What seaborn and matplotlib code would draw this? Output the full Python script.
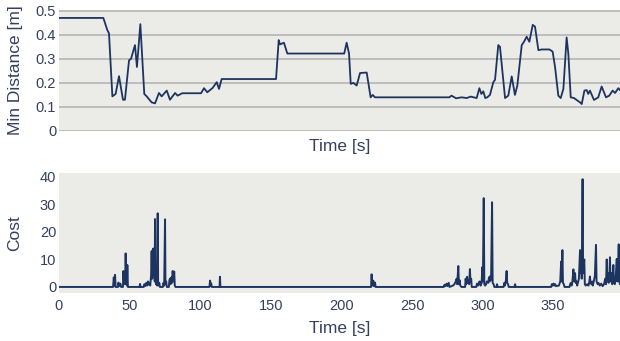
import matplotlib
matplotlib.use("Agg")
import matplotlib.pyplot as plt
import seaborn as sns
import pandas as pd

# ---------------- data ----------------
min_t = [0, 31.4, 34.2, 35.4, 37.8, 40.1, 42.5, 45.3, 46.7, 49.6, 51.0, 53.8, 55.2, 57.6,
         60.4, 62.1, 65.6, 68.0, 70.8, 72.7, 76.3, 78.6, 82.2, 84.0, 87.3, 100.6, 102.7,
         105.0, 108.8, 111.7, 113.3, 115.2, 153.7, 155.6, 156.5, 159.3, 161.7, 202.0, 203.7,
         205.4, 206.6, 208.5, 210.8, 213.2, 217.9, 220.7, 222.2, 223.8, 276.4, 278.0, 281.2,
         285.2, 288.7, 291.5, 295.8, 297.7, 299.1, 300.5, 301.9, 303.3, 305.2, 307.6, 308.8,
         311.1, 312.3, 315.9, 318.2, 320.6, 322.9, 324.6, 327.7, 329.3, 331.2, 333.1, 335.5,
         337.1, 339.5, 341.9, 347.3, 349.6, 351.3, 353.6, 355.3, 357.2, 359.5, 360.7, 362.4,
         364.7, 366.6, 369.0, 370.2, 372.1, 373.7, 374.8, 376.0, 378.9, 381.9, 384.3, 387.4,
         389.7, 392.1, 393.8, 396.1, 397.3]
min_dist = [0.47, 0.47, 0.42, 0.406, 0.144, 0.154, 0.228, 0.13, 0.13, 0.294, 0.30, 0.357, 0.266,
            0.444, 0.154, 0.144, 0.119, 0.115, 0.158, 0.144, 0.168, 0.13, 0.158, 0.147, 0.157,
            0.157, 0.178, 0.161, 0.179, 0.203, 0.175, 0.216, 0.216, 0.378, 0.36, 0.367, 0.322,
            0.322, 0.367, 0.322, 0.196, 0.20, 0.189, 0.241, 0.243, 0.14, 0.15, 0.14, 0.14, 0.147,
            0.136, 0.14, 0.137, 0.143, 0.137, 0.178, 0.154, 0.165, 0.137, 0.14, 0.15, 0.203,
            0.213, 0.357, 0.35, 0.137, 0.147, 0.227, 0.15, 0.189, 0.357, 0.371, 0.392, 0.371,
            0.441, 0.434, 0.336, 0.339, 0.339, 0.33, 0.266, 0.147, 0.137, 0.175, 0.389, 0.322,
            0.14, 0.137, 0.129, 0.119, 0.112, 0.168, 0.17, 0.154, 0.168, 0.129, 0.14, 0.185,
            0.14, 0.147, 0.168, 0.158, 0.178, 0.17]

cost_points = [
    (0, 0), (38.3, 0), (38.8, 3.5), (39.2, 0.5), (39.7, 4.4), (40.1, 0), (41.8, 0), (42.1, 1.6),
    (42.5, 0.3), (43.5, 1.2), (44.0, 0), (45.3, 0), (45.6, 5.8), (46.0, 2), (46.4, 5.5), (46.8, 1),
    (47.2, 12.2), (47.6, 3), (48.1, 0.5), (48.4, 8), (48.8, 0), (57.0, 0), (57.4, 1.1), (57.8, 0),
    (60.0, 0), (60.5, 1), (61.0, 0.3), (61.8, 1.5), (62.3, 0.5), (63.0, 2), (63.5, 0.8), (64.2, 1.5),
    (64.6, 0.5), (65.2, 4), (65.6, 13), (66.0, 3), (66.4, 13.5), (66.8, 14), (67.1, 4), (67.5, 8),
    (67.8, 2), (68.0, 24.7), (68.3, 3), (68.7, 1), (69.0, 3), (69.5, 0.5), (69.9, 26.8), (70.2, 2),
    (70.6, 0.5), (71.0, 1.5), (71.5, 0), (73.5, 0), (74.0, 1.5), (74.5, 0.5), (75.1, 24.6),
    (75.4, 1), (75.9, 2), (76.4, 0), (77.8, 0), (78.2, 2.5), (78.6, 3), (79.0, 1), (79.6, 3.5),
    (80.0, 1.5), (80.5, 5.8), (81.0, 2), (81.6, 5.6), (82.0, 0.5), (82.5, 0),
    (106.5, 0), (107.0, 2.3), (107.4, 0.5), (107.8, 1.3), (108.2, 0), (113.7, 0), (114.0, 3.7),
    (114.3, 0), (221.0, 0), (221.4, 4.6), (221.8, 0.5), (222.6, 2.3), (223.0, 0.3), (223.8, 1.6),
    (224.2, 0), (272.5, 0), (273.0, 0.8), (273.5, 0.3), (274.5, 1.2), (275.0, 0.3), (276.0, 1.5),
    (276.5, 0), (279.0, 0.5), (280.0, 1), (281.0, 2), (281.6, 3), (282.0, 1), (282.8, 7.6),
    (283.2, 1), (283.7, 2.5), (284.2, 0.5), (285.0, 0), (287.6, 0), (288.0, 3), (288.4, 1),
    (289.0, 3.7), (289.5, 1.5), (290.0, 2), (290.5, 1), (291.0, 6.5), (291.4, 2), (291.9, 3),
    (292.3, 0), (295.5, 0), (296.0, 1.2), (296.8, 0.5), (297.5, 1.8), (298.0, 2), (298.6, 0.5),
    (299.3, 1.5), (299.8, 7.2), (300.2, 2), (300.8, 32.3), (301.2, 1), (301.8, 0.5), (302.5, 1),
    (303.0, 2), (304.0, 1.5), (304.5, 3.5), (305.0, 2), (305.5, 4), (306.0, 2.5), (306.7, 30.8),
    (307.1, 1.5), (307.8, 1), (308.3, 0), (309.8, 0), (310.2, 1), (310.6, 0), (314.8, 0),
    (315.4, 1.5), (315.8, 0.5), (316.5, 2.5), (317.0, 5.8), (317.4, 1.5), (318.0, 1), (318.5, 0),
    (322.6, 0), (323.0, 1), (323.4, 0), (348.5, 0), (349.0, 1), (349.5, 0.5), (350.2, 1.2),
    (350.8, 0.5), (351.4, 1), (352.0, 0.3), (354.0, 0.5), (355.0, 2), (355.6, 9.2), (356.0, 2),
    (356.5, 13.4), (356.9, 1.5), (357.5, 1), (358.0, 0), (361.5, 0), (362.0, 1), (362.6, 1.5),
    (363.0, 0.5), (363.6, 2), (364.3, 6.4), (364.7, 2), (365.5, 5), (365.9, 1.5), (366.5, 2),
    (367.0, 0.5), (367.5, 1.5), (368.2, 3), (369.0, 13.4), (369.4, 5), (369.8, 10), (370.2, 3),
    (370.8, 39.2), (371.2, 5), (372.0, 10), (372.4, 1), (373.0, 0.5), (374.0, 1), (375.0, 0.5),
    (375.6, 2), (376.0, 3.8), (376.4, 1.5), (377.0, 1), (377.6, 2), (378.0, 0.5), (378.9, 2.4),
    (379.5, 4), (380.3, 15.3), (380.7, 2), (381.5, 1), (382.0, 1.5), (383.0, 0.5), (384.0, 1.2),
    (385.0, 0.3), (386.0, 1), (386.8, 3), (387.4, 1), (387.9, 10), (388.3, 2), (388.8, 5),
    (389.3, 1.5), (389.8, 4), (390.2, 10.8), (390.6, 2), (391.2, 5), (391.8, 1), (392.6, 8),
    (393.0, 2), (393.6, 1), (394.2, 3), (395.0, 10.2), (395.4, 2), (395.8, 4), (396.4, 15.5),
    (396.8, 2), (397.3, 1),
]

top_yticks = [0, 0.1, 0.2, 0.3, 0.4, 0.5]
top_yticklabels = ["0", "0.1", "0.2", "0.3", "0.4", "0.5"]
bot_yticks = [0, 10, 20, 30, 40]
x_ticks = [0, 50, 100, 150, 200, 250, 300, 350]

# ---------------- style ----------------
LINE = "#1d3461"
TEXT = "#34405e"
BG = "#ebebe7"
GRID = "#bdbdbd"

sns.set_theme(style="white")
plt.rcParams["font.family"] = ["Liberation Sans", "DejaVu Sans"]

df_top = pd.DataFrame({"t": min_t, "d": min_dist})
df_bot = pd.DataFrame(cost_points, columns=["t", "c"])

W, H = 620, 341
fig = plt.figure(figsize=(W / 100, H / 100), dpi=100)
ax1 = fig.add_axes([59 / W, (H - 131) / H, 561 / W, 121 / H])
ax2 = fig.add_axes([59 / W, (H - 293) / H, 561 / W, 120 / H])

for ax in (ax1, ax2):
    ax.set_facecolor(BG)
    for s in ax.spines.values():
        s.set_visible(False)
    ax.tick_params(length=0, colors=TEXT, labelsize=10.5)
    ax.set_xlim(0, 397.3)

sns.lineplot(data=df_top, x="t", y="d", ax=ax1, color=LINE, linewidth=1.3, estimator=None)
ax1.set_ylim(0, 0.503)
ax1.set_yticks(top_yticks)
ax1.set_yticklabels(top_yticklabels)
ax1.set_xticks(x_ticks)
ax1.set_xticklabels([])
ax1.grid(axis="y", color=GRID, linewidth=1.4)
ax1.set_axisbelow(True)
ax1.set_xlabel("Time [s]", color=TEXT, fontsize=12.5, va="top")
ax1.set_ylabel("Min Distance [m]", color=TEXT, fontsize=12.5)
ax1.xaxis.set_label_coords(0.5, -0.07)
ax1.yaxis.set_label_coords(-0.064, 0.5)
ax1.tick_params(axis="y", pad=2)

sns.lineplot(data=df_bot, x="t", y="c", ax=ax2, color=LINE, linewidth=1.4, estimator=None)
ax2.set_ylim(-2.2, 41.45)
ax2.set_yticks(bot_yticks)
ax2.set_xticks(x_ticks)
ax2.set_xlabel("Time [s]", color=TEXT, fontsize=12.5, va="top")
ax2.set_ylabel("Cost", color=TEXT, fontsize=12.5)
ax2.xaxis.set_label_coords(0.5, -0.235)
ax2.yaxis.set_label_coords(-0.066, 0.5)
ax2.tick_params(axis="y", pad=2)
ax2.tick_params(axis="x", pad=4)

fig.savefig("out.png", dpi=100, facecolor="white")
